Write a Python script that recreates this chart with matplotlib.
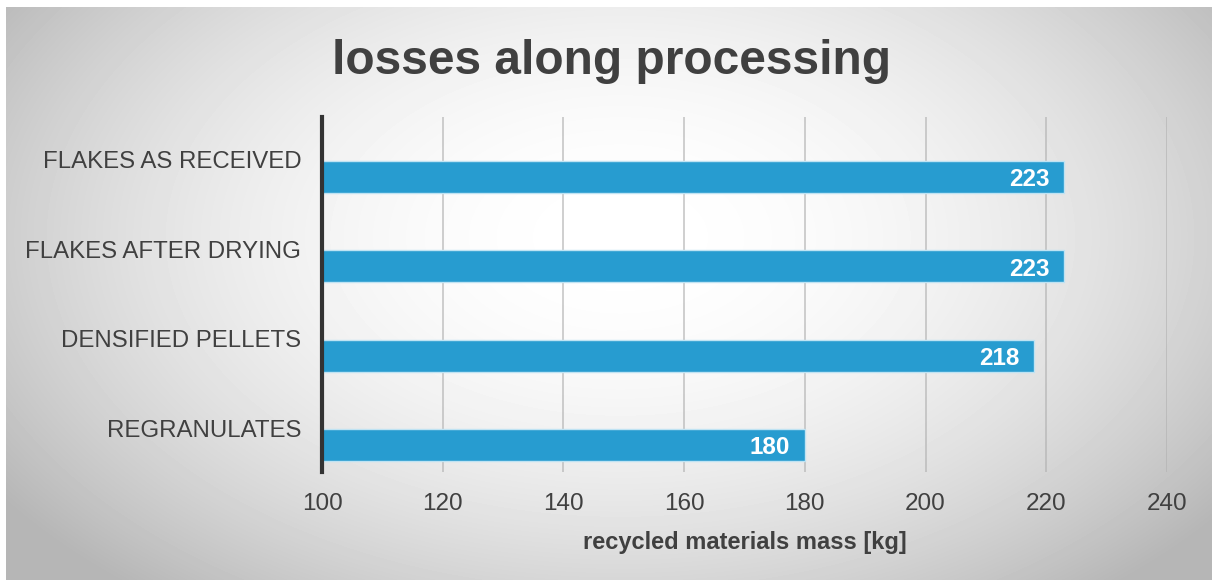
import numpy as np
import matplotlib
matplotlib.use('Agg')
import matplotlib.pyplot as plt
import matplotlib.transforms as mtransforms

plt.rcParams['font.family'] = ['Liberation Sans', 'DejaVu Sans']

# data
categories = ['FLAKES AS RECEIVED', 'FLAKES AFTER DRYING', 'DENSIFIED PELLETS', 'REGRANULATES']
mass = [223, 223, 218, 180]
x_ticks = [100, 120, 140, 160, 180, 200, 220, 240]

text_color = '#404040'
bar_color = '#279cd0'

fig = plt.figure(figsize=(12.12, 5.81), dpi=100)

# radial grey background card
bg = fig.add_axes([6 / 1212, 1 / 581, 1 - 6 / 1212, 1 - 8 / 581])
W, H = 1206, 573
xx, yy = np.meshgrid(np.arange(W), np.arange(H))
r2 = ((xx - 614) / 700.0) ** 2 + ((yy - 230) / 430.0) ** 2
shade = 1 - 0.25 * np.clip(r2, 0, 1.15)
bg.imshow(shade, cmap='gray', vmin=0, vmax=1, aspect='auto', interpolation='bilinear')
bg.set_axis_off()

ax = fig.add_axes([322 / 1212, 1 - 472 / 581, 845 / 1212, 355 / 581])
ax.patch.set_alpha(0)

y = np.arange(len(categories))
bars = ax.barh(y, mass, height=0.36, left=0, color=bar_color,
               edgecolor='#bfe3f3', linewidth=1.0, zorder=3)
ax.set_xlim(100, 240)
ax.set_ylim(3.3, -0.67)

ax.set_xticks(x_ticks)
ax.set_xticklabels([str(t) for t in x_ticks], fontsize=17.5, color=text_color)
ax.tick_params(axis='x', length=0, pad=15)
ax.grid(axis='x', color='#b0b0b0', linewidth=1.2, alpha=0.7, zorder=0)

ax.set_yticks(y)
ax.set_yticklabels(categories, fontsize=17.3, color=text_color)
ax.tick_params(axis='y', length=0, pad=15)
offset = mtransforms.ScaledTranslation(0, 17 / 100, fig.dpi_scale_trans)
for lab in ax.get_yticklabels():
    lab.set_transform(lab.get_transform() + offset)

for side in ['top', 'right', 'bottom']:
    ax.spines[side].set_visible(False)
ax.spines['left'].set_color('#333333')
ax.spines['left'].set_linewidth(3)
ax.spines['left'].set_zorder(4)

for b, v in zip(bars, mass):
    ax.text(v - 2.5, b.get_y() + b.get_height() / 2 + 0.03, str(v), ha='right', va='center',
            color='white', fontsize=17.5, fontweight='bold', zorder=5)

ax.set_xlabel('recycled materials mass [kg]', fontsize=17, fontweight='bold',
              color=text_color, labelpad=12)

fig.text(611 / 1212, 1 - 61 / 581, 'losses along processing', ha='center', va='center',
         fontsize=34.5, fontweight='bold', color=text_color)

fig.savefig('out.png', dpi=100, facecolor='white')
